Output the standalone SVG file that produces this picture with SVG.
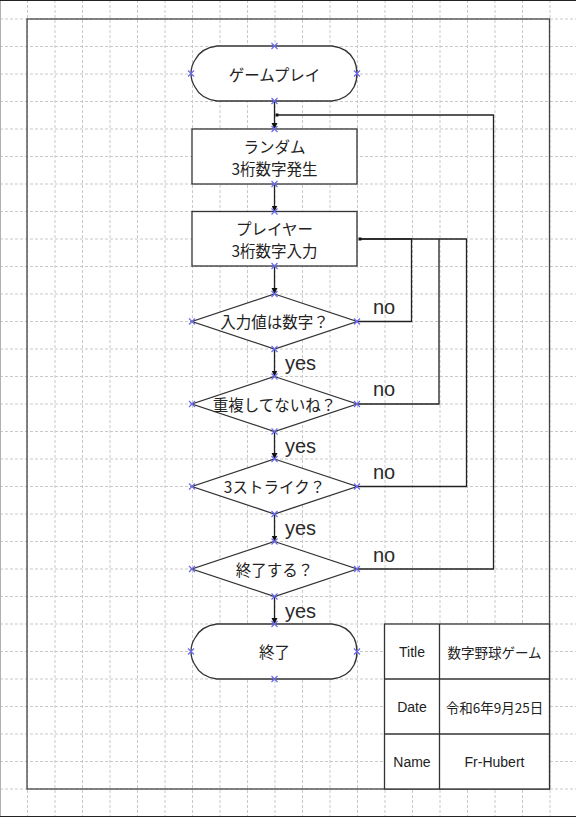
<svg xmlns="http://www.w3.org/2000/svg" xmlns:xlink="http://www.w3.org/1999/xlink" width="576" height="817" viewBox="0 0 576 817">
<style>
.grid line{stroke:#c9c9c9;stroke-width:1;stroke-dasharray:3 2;}
.node{fill:#fff;stroke:#333;stroke-width:1.3;}
.conn{fill:none;stroke:#222;stroke-width:1.3;}
.jp{font-family:"Noto Sans CJK JP","Noto Sans",sans-serif;font-size:15.5px;fill:#222;text-anchor:middle;dominant-baseline:central;}
.lbl{font-family:"Liberation Sans",Arial,sans-serif;font-size:20px;fill:#2a2a2a;}
.tb{font-family:"Liberation Sans",Arial,sans-serif;font-size:14px;fill:#222;text-anchor:middle;dominant-baseline:central;}
.tbj{font-family:"Noto Sans CJK JP","Noto Sans",sans-serif;font-size:13.5px;fill:#222;text-anchor:middle;dominant-baseline:central;}
.xm{stroke:#6a6af0;stroke-width:1.2;fill:none;}
</style>
<defs>
<marker id="arr" markerUnits="userSpaceOnUse" markerWidth="8" markerHeight="8" refX="6" refY="3" orient="auto">
<path d="M0,0 L6,3 L0,6 Z" fill="#111"/>
</marker>
<g id="xm"><path class="xm" d="M-3,-3 L3,3 M-3,3 L3,-3"/></g>
</defs>
<rect x="0" y="0" width="576" height="817" fill="#fff"/>
<g class="grid">
<line x1="27.5" y1="0" x2="27.5" y2="817"/><line x1="55" y1="0" x2="55" y2="817"/><line x1="82.5" y1="0" x2="82.5" y2="817"/><line x1="110" y1="0" x2="110" y2="817"/><line x1="137.5" y1="0" x2="137.5" y2="817"/><line x1="165" y1="0" x2="165" y2="817"/><line x1="192.5" y1="0" x2="192.5" y2="817"/><line x1="220" y1="0" x2="220" y2="817"/><line x1="247.5" y1="0" x2="247.5" y2="817"/><line x1="275" y1="0" x2="275" y2="817"/><line x1="302.5" y1="0" x2="302.5" y2="817"/><line x1="330" y1="0" x2="330" y2="817"/><line x1="357.5" y1="0" x2="357.5" y2="817"/><line x1="385" y1="0" x2="385" y2="817"/><line x1="412.5" y1="0" x2="412.5" y2="817"/><line x1="440" y1="0" x2="440" y2="817"/><line x1="467.5" y1="0" x2="467.5" y2="817"/><line x1="495" y1="0" x2="495" y2="817"/><line x1="522.5" y1="0" x2="522.5" y2="817"/><line x1="550" y1="0" x2="550" y2="817"/>
<line x1="0" y1="19" x2="576" y2="19"/><line x1="0" y1="46.5" x2="576" y2="46.5"/><line x1="0" y1="74" x2="576" y2="74"/><line x1="0" y1="101.5" x2="576" y2="101.5"/><line x1="0" y1="129" x2="576" y2="129"/><line x1="0" y1="156.5" x2="576" y2="156.5"/><line x1="0" y1="184" x2="576" y2="184"/><line x1="0" y1="211.5" x2="576" y2="211.5"/><line x1="0" y1="239" x2="576" y2="239"/><line x1="0" y1="266.5" x2="576" y2="266.5"/><line x1="0" y1="294" x2="576" y2="294"/><line x1="0" y1="321.5" x2="576" y2="321.5"/><line x1="0" y1="349" x2="576" y2="349"/><line x1="0" y1="376.5" x2="576" y2="376.5"/><line x1="0" y1="404" x2="576" y2="404"/><line x1="0" y1="431.5" x2="576" y2="431.5"/><line x1="0" y1="459" x2="576" y2="459"/><line x1="0" y1="486.5" x2="576" y2="486.5"/><line x1="0" y1="514" x2="576" y2="514"/><line x1="0" y1="541.5" x2="576" y2="541.5"/><line x1="0" y1="569" x2="576" y2="569"/><line x1="0" y1="596.5" x2="576" y2="596.5"/><line x1="0" y1="624" x2="576" y2="624"/><line x1="0" y1="651.5" x2="576" y2="651.5"/><line x1="0" y1="679" x2="576" y2="679"/><line x1="0" y1="706.5" x2="576" y2="706.5"/><line x1="0" y1="734" x2="576" y2="734"/><line x1="0" y1="761.5" x2="576" y2="761.5"/><line x1="0" y1="789" x2="576" y2="789"/>
</g>
<line x1="0.5" y1="0" x2="0.5" y2="817" stroke="#b0b0b0" stroke-width="1"/>
<line x1="0" y1="0.5" x2="576" y2="0.5" stroke="#222" stroke-width="1"/>
<line x1="0" y1="816.5" x2="576" y2="816.5" stroke="#222" stroke-width="1"/>
<rect id="frame" x="27" y="19" width="522.5" height="770" fill="none" stroke="#444" stroke-width="1.3"/>

<g id="connectors">
<path class="conn" d="M274.5,101 V129" marker-end="url(#arr)"/>
<path class="conn" d="M274.5,184 V211.5" marker-end="url(#arr)"/>
<path class="conn" d="M274.5,266 V294" marker-end="url(#arr)"/>
<path class="conn" d="M274.5,349 V376.5" marker-end="url(#arr)"/>
<path class="conn" d="M274.5,431.5 V459" marker-end="url(#arr)"/>
<path class="conn" d="M274.5,514 V541.5" marker-end="url(#arr)"/>
<path class="conn" d="M274.5,596.5 V624" marker-end="url(#arr)"/>
<path class="conn" d="M357,321.5 H411.5 V239 H360"/>
<path class="conn" d="M357,404 H439 V239"/>
<path class="conn" d="M357,486.5 H466.5 V239 H360"/>
<path class="conn" d="M357,569 H493.5 V115 H277"/>
<rect x="358.5" y="237.5" width="3" height="3" fill="#111"/>
<rect x="275.5" y="113.5" width="3" height="3" fill="#111"/>
<text class="lbl" x="285" y="370">yes</text>
<text class="lbl" x="285" y="452.5">yes</text>
<text class="lbl" x="285" y="535">yes</text>
<text class="lbl" x="285" y="617.5">yes</text>
<text class="lbl" x="373" y="313.5">no</text>
<text class="lbl" x="373" y="396">no</text>
<text class="lbl" x="373" y="479">no</text>
<text class="lbl" x="373" y="562">no</text>
</g>

<g id="start">
<path class="node" d="M217,46 H332 Q348,48 354,60 Q357,66 357,73.5 Q357,81 354,87 Q348,99 332,101 H217 Q201,99 195,87 Q191,81 191,73.5 Q191,66 195,60 Q201,48 217,46 Z"/>
<text class="jp" x="274.5" y="73.5">ゲームプレイ</text>
<use xlink:href="#xm" x="274.5" y="46"/><use xlink:href="#xm" x="274.5" y="101"/><use xlink:href="#xm" x="191" y="73.5"/><use xlink:href="#xm" x="357" y="73.5"/>
</g>

<g id="random">
<rect class="node" x="192" y="129" width="165" height="55"/>
<text class="jp" x="274.5" y="145.5">ランダム</text>
<text class="jp" x="274.5" y="168">3桁数字発生</text>
<use xlink:href="#xm" x="274.5" y="129"/><use xlink:href="#xm" x="274.5" y="184"/>
</g>

<g id="input">
<rect class="node" x="192" y="211.5" width="165" height="54.5"/>
<text class="jp" x="274.5" y="227.5">プレイヤー</text>
<text class="jp" x="274.5" y="250">3桁数字入力</text>
<use xlink:href="#xm" x="274.5" y="211.5"/><use xlink:href="#xm" x="274.5" y="266"/>
</g>

<g id="d1">
<path class="node" d="M274.5,294 L357,321.5 L274.5,349 L192,321.5 Z"/>
<text class="jp" x="274.5" y="321">入力値は数字？</text>
<use xlink:href="#xm" x="274.5" y="294"/><use xlink:href="#xm" x="274.5" y="349"/><use xlink:href="#xm" x="192" y="321.5"/><use xlink:href="#xm" x="357" y="321.5"/>
</g>

<g id="d2">
<path class="node" d="M274.5,376.5 L357,404 L274.5,431.5 L192,404 Z"/>
<text class="jp" x="274.5" y="403.5">重複してないね？</text>
<use xlink:href="#xm" x="274.5" y="376.5"/><use xlink:href="#xm" x="274.5" y="431.5"/><use xlink:href="#xm" x="192" y="404"/><use xlink:href="#xm" x="357" y="404"/>
</g>

<g id="d3">
<path class="node" d="M274.5,459 L357,486.5 L274.5,514 L192,486.5 Z"/>
<text class="jp" x="274.5" y="486">3ストライク？</text>
<use xlink:href="#xm" x="274.5" y="459"/><use xlink:href="#xm" x="274.5" y="514"/><use xlink:href="#xm" x="192" y="486.5"/><use xlink:href="#xm" x="357" y="486.5"/>
</g>

<g id="d4">
<path class="node" d="M274.5,541.5 L357,569 L274.5,596.5 L192,569 Z"/>
<text class="jp" x="274.5" y="568.5">終了する？</text>
<use xlink:href="#xm" x="274.5" y="541.5"/><use xlink:href="#xm" x="274.5" y="596.5"/><use xlink:href="#xm" x="192" y="569"/><use xlink:href="#xm" x="357" y="569"/>
</g>

<g id="end">
<path class="node" d="M217,624 H332 Q348,626 354,638 Q357,644 357,651.5 Q357,659 354,665 Q348,677 332,679 H217 Q201,677 195,665 Q191,659 191,651.5 Q191,644 195,638 Q201,626 217,624 Z"/>
<text class="jp" x="274.5" y="651">終了</text>
<use xlink:href="#xm" x="274.5" y="624"/><use xlink:href="#xm" x="274.5" y="679"/><use xlink:href="#xm" x="191" y="651.5"/><use xlink:href="#xm" x="357" y="651.5"/>
</g>

<g id="titleblock">
<rect x="384.5" y="624" width="165" height="165" fill="#fff" stroke="#333" stroke-width="1.3"/>
<line x1="439.5" y1="624" x2="439.5" y2="789" stroke="#333" stroke-width="1.3"/>
<line x1="384.5" y1="679" x2="549.5" y2="679" stroke="#333" stroke-width="1.3"/>
<line x1="384.5" y1="734" x2="549.5" y2="734" stroke="#333" stroke-width="1.3"/>
<text class="tb" x="412" y="651.5">Title</text>
<text class="tb" x="412" y="706.5">Date</text>
<text class="tb" x="412" y="761.5">Name</text>
<text class="tbj" x="494.5" y="651.5">数字野球ゲーム</text>
<text class="tbj" x="494.5" y="706.5">令和6年9月25日</text>
<text class="tb" x="494.5" y="761.5">Fr-Hubert</text>
</g>
</svg>
